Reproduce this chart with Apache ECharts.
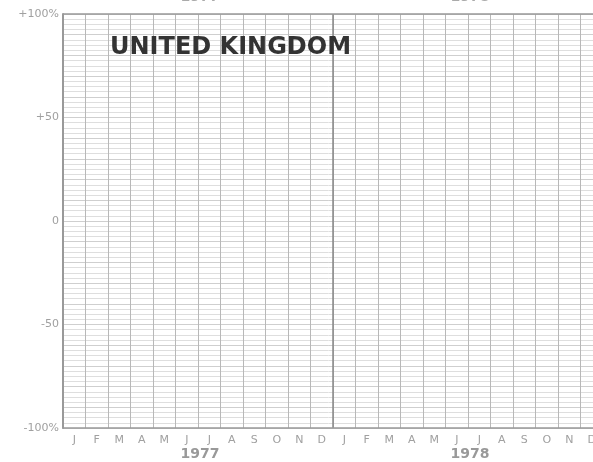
<!DOCTYPE html>
<html>
<head>
<meta charset="utf-8">
<script src="https://cdn.jsdelivr.net/npm/echarts@6/dist/echarts.min.js"></script>
<style>
  html, body { margin: 0; padding: 0; background: #fff; }
  #chart { width: 593px; height: 462px; }
</style>
</head>
<body>
<div id="chart"></div>
<script>
// months for two years, the chart is an empty grid (no series drawn)
var months = ['J', 'F', 'M', 'A', 'M', 'J', 'J', 'A', 'S', 'O', 'N', 'D',
              'J', 'F', 'M', 'A', 'M', 'J', 'J', 'A', 'S', 'O', 'N', 'D'];
var years = ['1977', '1978'];
var yLabels = { '100': '+100%', '50': '+50', '0': '0', '-50': '-50', '-100': '-100%' };
var yMin = -100, yMax = 100;

var chart = echarts.init(document.getElementById('chart'));

chart.setOption({
  animation: false,
  backgroundColor: '#fff',
  grid: {
    left: 63,
    top: 14,
    bottom: 34,
    right: -10,
    outerBoundsMode: 'none'
  },
  xAxis: [
    {
      type: 'category',
      data: months,
      boundaryGap: true,
      axisLine: { onZero: false, lineStyle: { color: '#999', width: 1.5 } },
      axisTick: { show: false },
      axisLabel: {
        interval: 0,
        color: '#a0a0a0',
        fontFamily: 'DejaVu Sans',
        fontSize: 11,
        margin: 7
      },
      splitLine: {
        show: true,
        interval: 0,
        lineStyle: { color: '#b8b8b8', width: 1 }
      }
    },
    {
      // year boundary line
      type: 'value',
      min: 0,
      max: 24,
      interval: 12,
      position: 'bottom',
      axisLine: { show: false },
      axisTick: { show: false },
      axisLabel: { show: false },
      splitLine: { show: true, lineStyle: { color: '#888', width: 1.5 } }
    }
  ],
  yAxis: [
    {
      type: 'value',
      min: yMin,
      max: yMax,
      interval: 50,
      axisLine: { show: true, lineStyle: { color: '#999', width: 2 } },
      axisTick: { show: false },
      axisLabel: {
        color: '#a0a0a0',
        fontFamily: 'DejaVu Sans',
        fontSize: 11,
        margin: 4,
        formatter: function (v) { return yLabels[String(v)] || ''; }
      },
      splitLine: { show: true, lineStyle: { color: '#c4c4c4', width: 1 } },
      minorSplitLine: { show: true, lineStyle: { color: '#dedede', width: 1 } },
      minorTick: { show: false, splitNumber: 20 }
    },
    {
      // slightly heavier lines every 10%
      type: 'value',
      min: yMin,
      max: yMax,
      interval: 10,
      position: 'left',
      axisLine: { show: false },
      axisTick: { show: false },
      axisLabel: { show: false },
      splitLine: { show: true, lineStyle: { color: '#cfcfcf', width: 1 } }
    }
  ],
  graphic: [
    {
      type: 'rect', z: 100,
      shape: { x: 63, y: 14, width: 540, height: 0 },
      style: { stroke: '#999', lineWidth: 1.5, fill: null }
    },
    {
      type: 'text', left: 110, top: 36, z: 100,
      style: {
        text: 'UNITED KINGDOM',
        font: 'bold 24px "DejaVu Sans", sans-serif',
        fill: '#333'
      }
    },
    {
      type: 'text', x: 200, y: 447, z: 100,
      style: { text: years[0], font: 'bold 14px "DejaVu Sans", sans-serif', fill: '#999', align: 'center', verticalAlign: 'top' }
    },
    {
      type: 'text', x: 470, y: 447, z: 100,
      style: { text: years[1], font: 'bold 14px "DejaVu Sans", sans-serif', fill: '#999', align: 'center', verticalAlign: 'top' }
    },
    {
      type: 'text', x: 200, y: 4, z: 100,
      style: { text: years[0], font: 'bold 14px "DejaVu Sans", sans-serif', fill: '#aaa', align: 'center', verticalAlign: 'bottom' }
    },
    {
      type: 'text', x: 470, y: 4, z: 100,
      style: { text: years[1], font: 'bold 14px "DejaVu Sans", sans-serif', fill: '#aaa', align: 'center', verticalAlign: 'bottom' }
    }
  ],
  series: [
    {
      type: 'line',
      xAxisIndex: 0,
      yAxisIndex: 0,
      data: [],
      silent: true
    }
  ]
});
</script>
</body>
</html>
